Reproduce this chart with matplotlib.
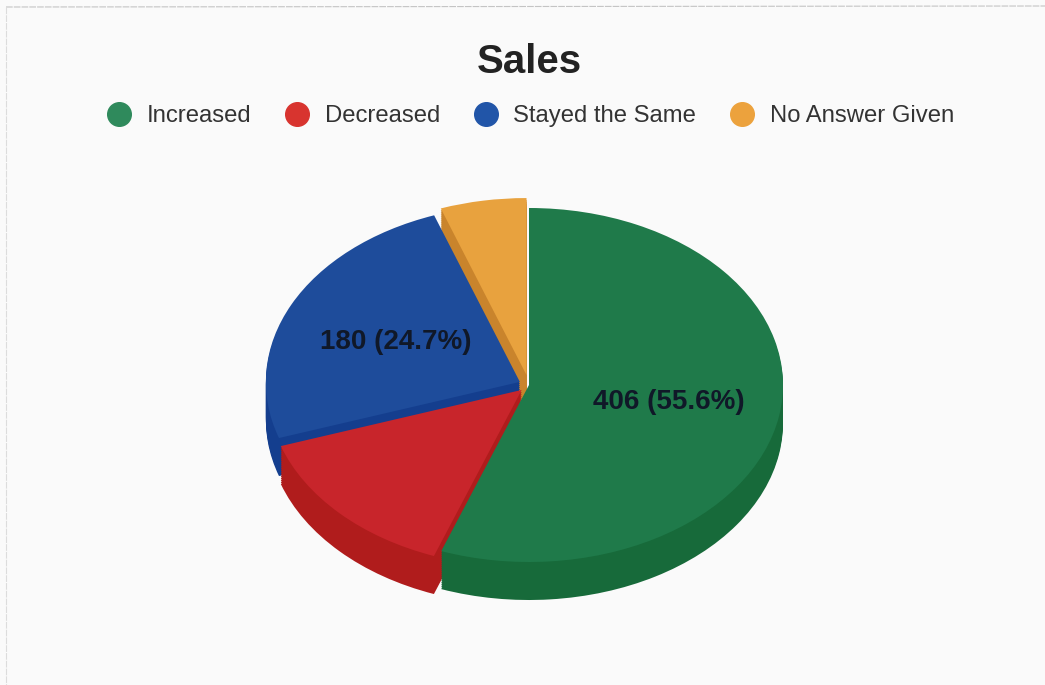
import matplotlib
matplotlib.use('Agg')
from matplotlib import pyplot as plt
from matplotlib.lines import Line2D

categories = ["Increased", "Decreased", "Stayed the Same", "No Answer Given"]
values = [406, 104, 180, 40]
explode = [0, 0.04, 0.04, 0.057]

top_colors = ["#1f7a4a", "#c8252b", "#1e4c9b", "#e8a23e"]
side_colors = ["#176a3a", "#b01c1c", "#143e8e", "#c9842c"]
legend_colors = ["#2f8a5c", "#d8342f", "#2155a8", "#eca23d"]

W, H = 1045, 685
cx, cy = 529, 385      # pie centre in pixels
rx, ry = 254, 177      # squashed radii
depth = 38

total = sum(values)


def make_label(pct):
    n = int(round(pct * total / 100))
    if pct < 20:
        return ""
    return "%d (%.1f%%)" % (n, pct)


plt.rcParams['font.family'] = ['Liberation Sans', 'DejaVu Sans']
fig = plt.figure(figsize=(W / 100, H / 100), dpi=100, facecolor="#fafafa")
ax = fig.add_axes([0, 0, 1, 1])

# side wall: same pie stacked downwards, then the top face
for d in range(depth, 0, -2):
    ax.pie(values, explode=explode, colors=side_colors, startangle=90, counterclock=False,
           center=(0, -d / ry))
wedges, texts, autotexts = ax.pie(values, explode=explode, colors=top_colors, startangle=90,
                                  counterclock=False, autopct=make_label, pctdistance=0.55,
                                  textprops={"fontsize": 20, "fontweight": "bold", "color": "#101828"})
# small nudges so the labels land where the reference has them
autotexts[2].set_position((autotexts[2].get_position()[0] + 0.006, autotexts[2].get_position()[1] - 0.012))
autotexts[0].set_x(autotexts[0].get_position()[0] + 0.008)

ax.set_aspect('auto')
ax.set_xlim(-cx / rx, (W - cx) / rx)
ax.set_ylim(-(H - cy) / ry, cy / ry)
ax.axis('off')

fig.text(529 / W, 1 - 62 / H, "Sales", ha="center", va="center", fontsize=29,
         fontweight="bold", color="#222222")

handles = [Line2D([], [], linestyle="none", marker="o", markersize=17, color=c) for c in legend_colors]
fig.legend(handles, categories, loc="center", bbox_to_anchor=(527 / W, 1 - 116 / H), ncol=4,
           frameon=False, fontsize=17.2, labelcolor="#333333", columnspacing=1.125,
           handletextpad=0.35, handlelength=1.6)

# scanned page edge
fig.add_artist(Line2D([6 / W, 1], [1 - 7 / H, 1 - 6 / H], color="#c4c4c4", lw=0.8, linestyle=(0, (6, 1))))
fig.add_artist(Line2D([6 / W, 6 / W], [1 - 7 / H, 0], color="#dcdcdc", lw=0.8, linestyle=(0, (6, 1))))

plt.savefig("out.png", dpi=100, facecolor=fig.get_facecolor())
